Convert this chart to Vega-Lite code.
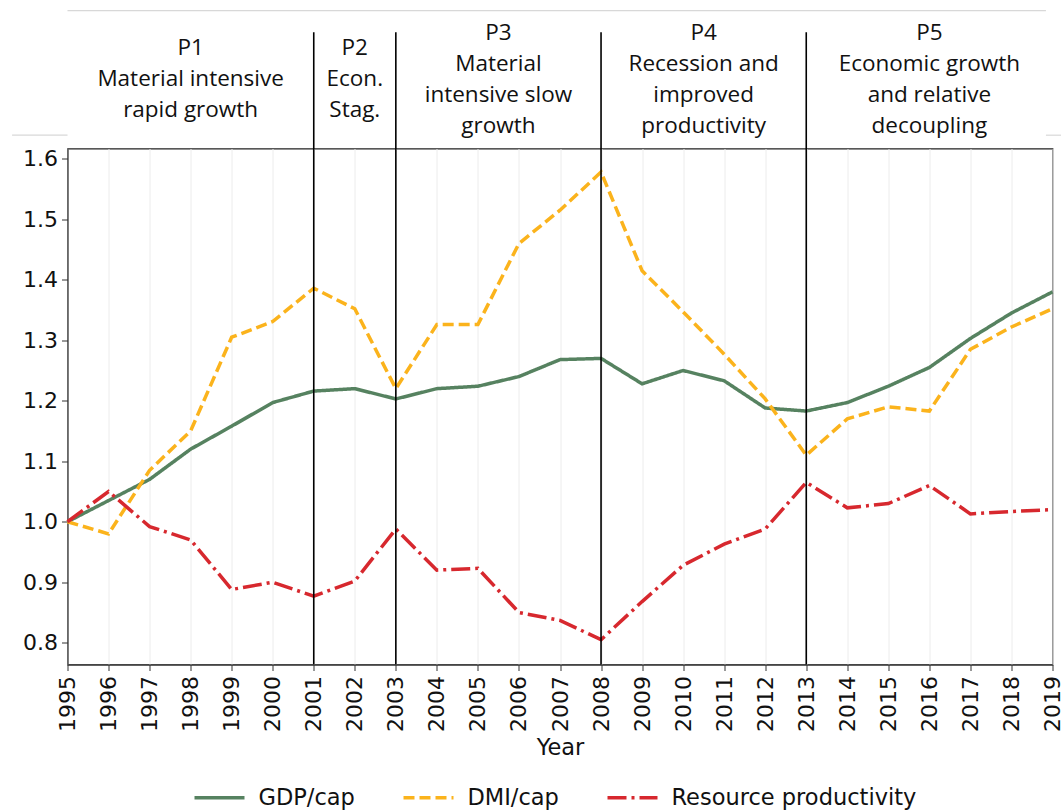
{
  "$schema": "https://vega.github.io/schema/vega-lite/v6.json",
  "width": 985,
  "height": 516,
  "autosize": {"type": "none"},
  "padding": {"left": 67.5, "top": 148.5, "right": 8.5, "bottom": 145.5},
  "background": "white",
  "config": {
    "view": {"stroke": "#222", "strokeWidth": 1.2},
    "font": "DejaVu Sans"
  },
  "datasets": {
    "series": [
      {"year": 1995, "series": "GDP/cap", "value": 1.0},
      {"year": 1996, "series": "GDP/cap", "value": 1.035},
      {"year": 1997, "series": "GDP/cap", "value": 1.07},
      {"year": 1998, "series": "GDP/cap", "value": 1.12},
      {"year": 1999, "series": "GDP/cap", "value": 1.158},
      {"year": 2000, "series": "GDP/cap", "value": 1.197},
      {"year": 2001, "series": "GDP/cap", "value": 1.216},
      {"year": 2002, "series": "GDP/cap", "value": 1.22},
      {"year": 2003, "series": "GDP/cap", "value": 1.203},
      {"year": 2004, "series": "GDP/cap", "value": 1.22},
      {"year": 2005, "series": "GDP/cap", "value": 1.224},
      {"year": 2006, "series": "GDP/cap", "value": 1.24},
      {"year": 2007, "series": "GDP/cap", "value": 1.268},
      {"year": 2008, "series": "GDP/cap", "value": 1.27},
      {"year": 2009, "series": "GDP/cap", "value": 1.228},
      {"year": 2010, "series": "GDP/cap", "value": 1.25},
      {"year": 2011, "series": "GDP/cap", "value": 1.233},
      {"year": 2012, "series": "GDP/cap", "value": 1.188},
      {"year": 2013, "series": "GDP/cap", "value": 1.183},
      {"year": 2014, "series": "GDP/cap", "value": 1.197},
      {"year": 2015, "series": "GDP/cap", "value": 1.224},
      {"year": 2016, "series": "GDP/cap", "value": 1.255},
      {"year": 2017, "series": "GDP/cap", "value": 1.303},
      {"year": 2018, "series": "GDP/cap", "value": 1.345},
      {"year": 2019, "series": "GDP/cap", "value": 1.38},
      {"year": 1995, "series": "DMI/cap", "value": 1.0},
      {"year": 1996, "series": "DMI/cap", "value": 0.98},
      {"year": 1997, "series": "DMI/cap", "value": 1.085},
      {"year": 1998, "series": "DMI/cap", "value": 1.15},
      {"year": 1999, "series": "DMI/cap", "value": 1.305},
      {"year": 2000, "series": "DMI/cap", "value": 1.331},
      {"year": 2001, "series": "DMI/cap", "value": 1.386},
      {"year": 2002, "series": "DMI/cap", "value": 1.352},
      {"year": 2003, "series": "DMI/cap", "value": 1.22},
      {"year": 2004, "series": "DMI/cap", "value": 1.326},
      {"year": 2005, "series": "DMI/cap", "value": 1.326},
      {"year": 2006, "series": "DMI/cap", "value": 1.46},
      {"year": 2007, "series": "DMI/cap", "value": 1.515},
      {"year": 2008, "series": "DMI/cap", "value": 1.578},
      {"year": 2009, "series": "DMI/cap", "value": 1.415},
      {"year": 2010, "series": "DMI/cap", "value": 1.347},
      {"year": 2011, "series": "DMI/cap", "value": 1.277},
      {"year": 2012, "series": "DMI/cap", "value": 1.203},
      {"year": 2013, "series": "DMI/cap", "value": 1.11},
      {"year": 2014, "series": "DMI/cap", "value": 1.17},
      {"year": 2015, "series": "DMI/cap", "value": 1.19},
      {"year": 2016, "series": "DMI/cap", "value": 1.183},
      {"year": 2017, "series": "DMI/cap", "value": 1.285},
      {"year": 2018, "series": "DMI/cap", "value": 1.322},
      {"year": 2019, "series": "DMI/cap", "value": 1.352},
      {"year": 1995, "series": "Resource productivity", "value": 1.0},
      {"year": 1996, "series": "Resource productivity", "value": 1.05},
      {"year": 1997, "series": "Resource productivity", "value": 0.992},
      {"year": 1998, "series": "Resource productivity", "value": 0.97},
      {"year": 1999, "series": "Resource productivity", "value": 0.888},
      {"year": 2000, "series": "Resource productivity", "value": 0.9},
      {"year": 2001, "series": "Resource productivity", "value": 0.877},
      {"year": 2002, "series": "Resource productivity", "value": 0.902},
      {"year": 2003, "series": "Resource productivity", "value": 0.988},
      {"year": 2004, "series": "Resource productivity", "value": 0.92},
      {"year": 2005, "series": "Resource productivity", "value": 0.923},
      {"year": 2006, "series": "Resource productivity", "value": 0.85},
      {"year": 2007, "series": "Resource productivity", "value": 0.837},
      {"year": 2008, "series": "Resource productivity", "value": 0.805},
      {"year": 2009, "series": "Resource productivity", "value": 0.868},
      {"year": 2010, "series": "Resource productivity", "value": 0.928},
      {"year": 2011, "series": "Resource productivity", "value": 0.963},
      {"year": 2012, "series": "Resource productivity", "value": 0.988},
      {"year": 2013, "series": "Resource productivity", "value": 1.065},
      {"year": 2014, "series": "Resource productivity", "value": 1.023},
      {"year": 2015, "series": "Resource productivity", "value": 1.03},
      {"year": 2016, "series": "Resource productivity", "value": 1.06},
      {"year": 2017, "series": "Resource productivity", "value": 1.013},
      {"year": 2018, "series": "Resource productivity", "value": 1.017},
      {"year": 2019, "series": "Resource productivity", "value": 1.02}
    ],
    "breaks": [
      {"year": 2001}, {"year": 2003}, {"year": 2008}, {"year": 2013}
    ],
    "periods3": [
      {"year": 1998, "label": "P1\nMaterial intensive\nrapid growth"},
      {"year": 2002, "label": "P2\nEcon.\nStag."}
    ],
    "periods4": [
      {"year": 2005.5, "label": "P3\nMaterial\nintensive slow\ngrowth"},
      {"year": 2010.5, "label": "P4\nRecession and\nimproved\nproductivity"},
      {"year": 2016, "label": "P5\nEconomic growth\nand relative\ndecoupling"}
    ],
    "frame": [
      {"year": 1995, "year2": 2018.84, "y": 1.845},
      {"year": 1993.65, "year2": 1995, "y": 1.639},
      {"year": 2018.84, "year2": 2019.25, "y": 1.639}
    ]
  },
  "layer": [
    {
      "data": {"name": "frame"},
      "mark": {"type": "rule", "color": "#d8d8d8", "strokeWidth": 1.2},
      "encoding": {
        "x": {"field": "year", "type": "quantitative", "scale": {"domain": [1995, 2019], "nice": false, "zero": false}, "title": "Year"},
        "x2": {"field": "year2"},
        "y": {"field": "y", "type": "quantitative", "scale": {"domain": [0.764, 1.617], "nice": false, "zero": false}, "title": null}
      }
    },
    {
      "data": {"name": "series"},
      "mark": {"type": "line", "strokeWidth": 3.5},
      "encoding": {
        "x": {
          "field": "year", "type": "quantitative",
          "scale": {"domain": [1995, 2019], "nice": false, "zero": false},
          "title": "Year",
          "axis": {
            "values": [1995,1996,1997,1998,1999,2000,2001,2002,2003,2004,2005,2006,2007,2008,2009,2010,2011,2012,2013,2014,2015,2016,2017,2018,2019],
            "format": "d", "labelAngle": -90, "labelFontSize": 22, "labelColor": "#111",
            "tickSize": 6, "tickColor": "#333", "domainColor": "#333", "labelPadding": 5,
            "grid": true, "gridColor": "#ececec", "gridWidth": 1,
            "titleFontSize": 22.5, "titleFontWeight": "normal", "titleColor": "#111", "titlePadding": 5,
            "labelFlush": false, "labelOverlap": false
          }
        },
        "y": {
          "field": "value", "type": "quantitative",
          "scale": {"domain": [0.764, 1.617], "nice": false, "zero": false},
          "title": null,
          "axis": {
            "values": [0.8, 0.9, 1.0, 1.1, 1.2, 1.3, 1.4, 1.5, 1.6],
            "format": ".1f", "labelFontSize": 22, "labelColor": "#111",
            "tickSize": 6, "tickColor": "#333", "domainColor": "#333", "labelPadding": 4,
            "grid": false
          }
        },
        "color": {
          "field": "series", "type": "nominal",
          "scale": {"domain": ["GDP/cap", "DMI/cap", "Resource productivity"], "range": ["#568260", "#fbb31c", "#d7282e"]},
          "legend": {
            "orient": "none", "legendX": 125, "legendY": 622, "direction": "horizontal", "title": null,
            "symbolType": "stroke", "symbolSize": 2500, "symbolStrokeWidth": 3.5,
            "labelFontSize": 22.5, "labelColor": "#111", "labelOffset": 12, "labelLimit": 500, "columnPadding": 41, "padding": 0
          }
        },
        "strokeDash": {
          "field": "series", "type": "nominal",
          "scale": {"domain": ["GDP/cap", "DMI/cap", "Resource productivity"], "range": [[1, 0], [11, 5], [19, 5, 3, 5]]},
          "legend": {
            "orient": "none", "legendX": 125, "legendY": 622, "direction": "horizontal", "title": null,
            "symbolType": "stroke", "symbolSize": 2500, "symbolStrokeWidth": 3.5,
            "labelFontSize": 22.5, "labelColor": "#111", "labelOffset": 12, "labelLimit": 500, "columnPadding": 41, "padding": 0
          }
        }
      }
    },
    {
      "data": {"name": "breaks"},
      "mark": {"type": "rule", "color": "#000", "strokeWidth": 1.6},
      "encoding": {
        "x": {"field": "year", "type": "quantitative", "title": "Year"},
        "y": {"datum": 0.764, "type": "quantitative"},
        "y2": {"datum": 1.809}
      }
    },
    {
      "data": {"name": "periods3"},
      "mark": {"type": "text", "font": "Open Sans", "fontSize": 22.5, "lineBreak": "\n", "lineHeight": 31, "baseline": "middle", "align": "center", "color": "#111"},
      "encoding": {
        "x": {"field": "year", "type": "quantitative", "title": "Year"},
        "y": {"datum": 1.7826, "type": "quantitative"},
        "text": {"field": "label"}
      }
    },
    {
      "data": {"name": "periods4"},
      "mark": {"type": "text", "font": "Open Sans", "fontSize": 22.5, "lineBreak": "\n", "lineHeight": 31, "baseline": "middle", "align": "center", "color": "#111"},
      "encoding": {
        "x": {"field": "year", "type": "quantitative", "title": "Year"},
        "y": {"datum": 1.8074, "type": "quantitative"},
        "text": {"field": "label"}
      }
    }
  ]
}
